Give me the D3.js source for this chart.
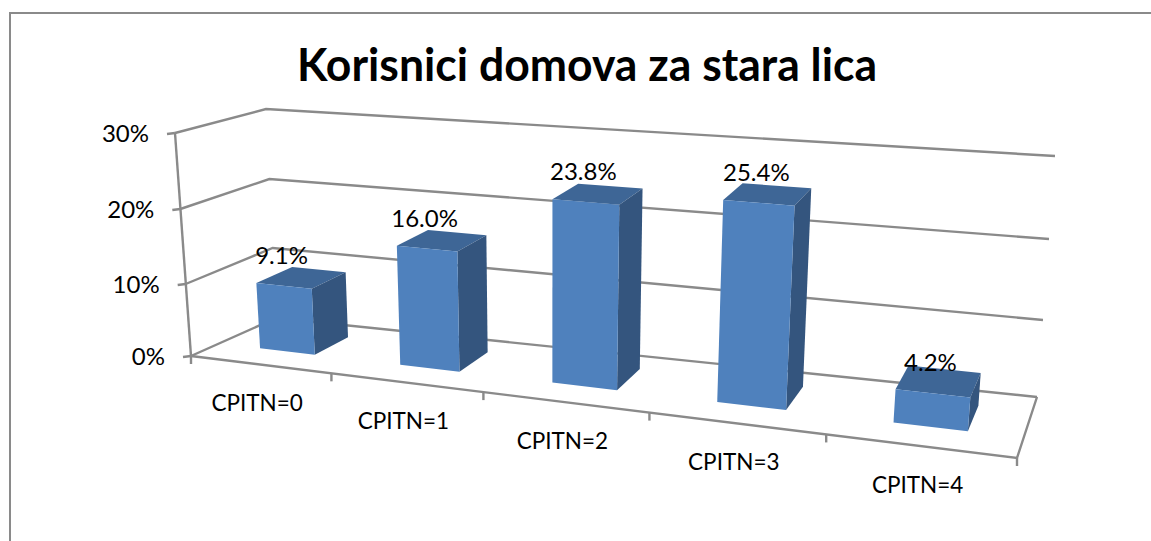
<!DOCTYPE html>
<html>
<head>
<meta charset="utf-8">
<script src="https://cdn.jsdelivr.net/npm/d3@7/dist/d3.min.js"></script>
<style>
html,body{margin:0;padding:0;background:#fff;overflow:hidden}
svg{display:block}
text{font-family:Lato,"Open Sans",sans-serif;fill:#000}
</style>
</head>
<body>
<svg id="c" width="1151" height="541"></svg>
<script>
const titleText = "Korisnici domova za stara lica";
const categories = ["CPITN=0","CPITN=1","CPITN=2","CPITN=3","CPITN=4"];
const values = [9.1,16.0,23.8,25.4,4.2];
const valueLabels = ["9.1%","16.0%","23.8%","25.4%","4.2%"];
const yTicks = [0,10,20,30];

const svg = d3.select("#c");
const gray = "#8a8a8a";

// Perspective box of the 3D plot: each vertical edge is a pair of scales.
const yDom = [0,10,20,30];
const edge = (x0,x1,ys)=>({x:d3.scaleLinear().domain([0,30]).range([x0,x1]), y:d3.scaleLinear().domain(yDom).range(ys)});
const frontLeft  = edge(191,175,[356,284,209,133]);
const backLeft   = edge(276,266,[318,248,179,109]);
const backRight  = edge(1037,1055,[397,320,239,156]);
const frontRight = edge(1017,1038,[458,375,289,199]);
const uScale = d3.scaleLinear().domain([0,1,2,3,4,5]).range([0,.17,.354,.555,.769,1]);
const depth = {front:.33, back:.76};
const barBand = .4;

function project(c,v,w){ // c category position, v depth 0..1, w value
  const u = uScale(c);
  const mix = k => (1-v)*((1-u)*frontLeft[k](w)+u*frontRight[k](w)) + v*((1-u)*backLeft[k](w)+u*backRight[k](w));
  return [mix("x"),mix("y")];
}
const line = pts => "M"+pts.map(p=>p.join(",")).join("L");
const poly = pts => line(pts)+"Z";
const n = categories.length;

// Chart frame
svg.append("path").attr("d",line([[10,541],[10,13],[1151,13]])).attr("fill","none").attr("stroke",gray).attr("stroke-width",2);

// Title
svg.append("text").attr("x",587).attr("y",81).attr("text-anchor","middle")
  .attr("font-size",46).attr("font-weight",700).attr("textLength",580).attr("lengthAdjust","spacingAndGlyphs").text(titleText);

const axes = svg.append("g").attr("fill","none").attr("stroke",gray).attr("stroke-width",2.4);
// Gridlines on the side and back walls
yTicks.forEach(t=>{
  axes.append("path").attr("d",line([project(0,0,t),project(0,1,t),project(n,1,t)]));
});
// Floor edges and vertical axis
axes.append("path").attr("d",line([project(0,0,0),project(n,0,0),project(n,1,0)]));
axes.append("path").attr("d",line([project(0,0,30),project(0,0,0)]));
// Ticks
yTicks.forEach(t=>{
  const p = project(0,0,t);
  axes.append("path").attr("d",line([[p[0]-8,p[1]+1],p]));
});
d3.range(n+1).forEach(i=>{
  const p = project(i,0,0);
  axes.append("path").attr("d",line([p,[p[0],p[1]+8]]));
});

// Y labels
yTicks.forEach(t=>{
  const p = project(0,0,t);
  svg.append("text").attr("x",p[0]-26).attr("y",p[1]+3).attr("text-anchor","end")
    .attr("dominant-baseline","middle").attr("font-size",24).text(t+"%");
});

// Bars
const bars = svg.append("g");
values.forEach((val,i)=>{
  const l = i+.5-barBand/2, r = i+.5+barBand/2;
  const f0=depth.front, b=depth.back;
  const g = bars.append("g");
  g.append("path").attr("fill","#3e6696").attr("d",poly([project(l,f0,val),project(r,f0,val),project(r,b,val),project(l,b,val)]));
  g.append("path").attr("fill","#34557e").attr("d",poly([project(r,f0,0),project(r,b,0),project(r,b,val),project(r,f0,val)]));
  g.append("path").attr("fill","#4f81bd").attr("d",poly([project(l,f0,0),project(r,f0,0),project(r,f0,val),project(l,f0,val)]));
});

// Value labels
values.forEach((val,i)=>{
  const p = project(i+.5,depth.front,val);
  svg.append("text").attr("x",p[0]-2.5).attr("y",p[1]-28).attr("text-anchor","middle")
    .attr("dominant-baseline","middle").attr("font-size",24).text(valueLabels[i]);
});

// Category labels
categories.forEach((c,i)=>{
  const p = project(i+.5,0,0);
  svg.append("text").attr("x",p[0]-4).attr("y",p[1]+41).attr("text-anchor","middle")
    .attr("dominant-baseline","middle").attr("font-size",22.5).text(c);
});
</script>
</body>
</html>
